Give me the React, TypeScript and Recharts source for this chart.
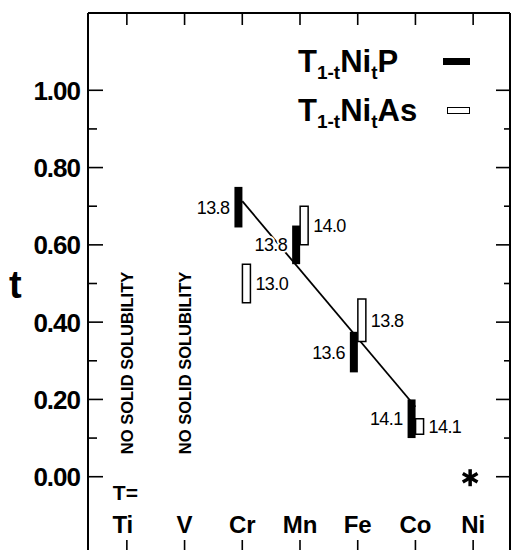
import { ComposedChart, Bar, Line, Scatter, XAxis, YAxis, LabelList, Legend } from 'recharts'

// transition metals T in T(1-t)Ni(t)P / T(1-t)Ni(t)As
const elements = ['Ti', 'V', 'Cr', 'Mn', 'Fe', 'Co', 'Ni']
const phosphideRange = [null, null, [0.645, 0.75], [0.55, 0.65], [0.27, 0.375], [0.1, 0.2], null]
const phosphideLabel = [null, null, '13.8', '13.8', '13.6', '14.1', null]
const arsenideRange = [null, null, [0.45, 0.55], [0.6, 0.7], [0.35, 0.46], [0.11, 0.15], null]
const arsenideLabel = [null, null, '13.0', '14.0', '13.8', '14.1', null]
const trendLine = [null, null, 0.713, null, null, 0.181, null]
const pureNi = [null, null, null, null, null, null, 0]
const noSolubility = ['Ti', 'V']
const yTicks = [0, 0.1, 0.2, 0.3, 0.4, 0.5, 0.6, 0.7, 0.8, 0.9, 1.0]
const seriesNames = ['P', 'As']

const chartData = elements.map((name, i) => ({
  name,
  p: phosphideRange[i],
  pLabel: phosphideLabel[i],
  as: arsenideRange[i],
  asLabel: arsenideLabel[i],
  fit: trendLine[i],
  ni: pureNi[i],
}))

const FONT = '"Liberation Sans", Arial, sans-serif'
const INK = '#000'

const LeftTick = ({ x, y, payload }: any) => {
  const major = Math.round(payload.value * 10) % 2 === 0
  return (
    <g>
      <line x1={x} x2={x + (major ? 15 : 9)} y1={y} y2={y} stroke={INK} strokeWidth={1.6} />
      {major && (
        <text x={x - 8} y={y} dy="0.36em" textAnchor="end" fontFamily={FONT} fontWeight="bold" fontSize={26} letterSpacing={-1} fill={INK}>
          {payload.value.toFixed(2)}
        </text>
      )}
    </g>
  )
}

const RightTick = ({ x, y, payload }: any) => {
  const major = Math.round(payload.value * 10) % 2 === 0
  return <line x1={x} x2={x - (major ? 14 : 6)} y1={y} y2={y} stroke={INK} strokeWidth={1.6} />
}

const TopTick = ({ x, y }: any) => (
  <line x1={x} x2={x} y1={y} y2={y + 12} stroke={INK} strokeWidth={1.6} />
)

const BottomTick = ({ x, y, payload }: any) => (
  <g>
    <line x1={x} x2={x} y1={y} y2={y - 14} stroke={INK} strokeWidth={1.6} />
    <text x={payload.value === elements[0] ? x - 4 : x} y={y - 21} textAnchor="middle" fontFamily={FONT} fontWeight="bold" fontSize={24} fill={INK}>
      {payload.value}
    </text>
    {payload.value === elements[0] && (
      <text x={x - 14} y={y - 54} fontFamily={FONT} fontWeight="bold" fontSize={21} fill={INK}>
        T=
      </text>
    )}
    {noSolubility.includes(payload.value) && (
      <text
        transform={`translate(${x}, ${y - 191}) rotate(-90)`}
        dy="0.36em"
        textAnchor="middle"
        fontFamily={FONT}
        fontWeight="bold"
        fontSize={16.5}
        fill={INK}
      >
        NO SOLID SOLUBILITY
      </text>
    )}
  </g>
)

const barLabel = (side: 'left' | 'right') => (props: any) => {
  const { x, y, width, height, value } = props
  if (value == null) return null
  const tx = side === 'left' ? x - 5 : x + width + 5
  return (
    <text
      x={tx}
      y={y + height / 2}
      dy="0.36em"
      textAnchor={side === 'left' ? 'end' : 'start'}
      fontFamily={FONT}
      fontSize={18}
      letterSpacing={-0.6}
      fill={INK}
      stroke="#fff"
      strokeWidth={4}
      paintOrder="stroke"
    >
      {value}
    </text>
  )
}

const Asterisk = (props: any) => {
  const { cx, cy } = props
  if (cx == null || cy == null || Number.isNaN(cy)) return null
  const r = 8.5
  const arms = [90, 30, 150].map((deg) => {
    const a = (deg * Math.PI) / 180
    return (
      <line key={deg} x1={cx - 3 - r * Math.cos(a)} y1={cy + 1 - r * Math.sin(a)} x2={cx - 3 + r * Math.cos(a)} y2={cy + 1 + r * Math.sin(a)} stroke={INK} strokeWidth={3.5} />
    )
  })
  return <g>{arms}</g>
}

const LegendContent = () => (
  <div style={{ fontFamily: FONT, fontWeight: 'bold', color: INK, width: 172 }}>
    {seriesNames.map((anion, i) => (
      <div key={anion} style={{ display: 'flex', justifyContent: 'space-between', alignItems: 'center', height: 49, fontSize: 31, lineHeight: '30px' }}>
        <span>
          T<span style={{ fontSize: 19, verticalAlign: -7, lineHeight: 0 }}>1-t</span>Ni
          <span style={{ fontSize: 19, verticalAlign: -7, lineHeight: 0 }}>t</span>
          {anion}
        </span>
        <span
          style={{
            display: 'inline-block',
            width: i === 0 ? 27 : 23,
            height: 7,
            background: i === 0 ? INK : '#fff',
            border: i === 0 ? 'none' : `1.5px solid ${INK}`,
            boxSizing: 'border-box',
          }}
        />
      </div>
    ))}
  </div>
)

export default function App() {
  return (
    <div style={{ position: 'absolute', left: 0, top: 0, width: 511, height: 550, overflow: 'hidden', background: '#fff' }}>
      <ComposedChart width={511} height={560} data={chartData} margin={{ top: 0, right: 0, bottom: 0, left: 0 }} barGap={0} barSize={8}>
        <XAxis dataKey="name" xAxisId="top" orientation="top" height={13} padding={{ left: 10, right: 8 }} tickSize={0} tickMargin={0} tickLine={false} tick={<TopTick />} axisLine={{ stroke: INK, strokeWidth: 2 }} interval={0} />
        <XAxis dataKey="name" height={6} padding={{ left: 10, right: 8 }} tickSize={0} tickMargin={0} tickLine={false} tick={<BottomTick />} axisLine={{ stroke: INK, strokeWidth: 2 }} interval={0} />
        <YAxis width={88} domain={[-0.2, 1.2]} ticks={yTicks} type="number" tickSize={0} tickMargin={0} tickLine={false} tick={<LeftTick />} axisLine={{ stroke: INK, strokeWidth: 2 }} interval={0} allowDataOverflow />
        <YAxis yAxisId="r" orientation="right" width={1} domain={[-0.2, 1.2]} ticks={yTicks} type="number" tickSize={0} tickMargin={0} tickLine={false} tick={<RightTick />} axisLine={{ stroke: INK, strokeWidth: 2 }} interval={0} allowDataOverflow />
        <Legend verticalAlign="middle" align="center" content={<LegendContent />} wrapperStyle={{ top: 37, left: 298, width: 172 }} />
        <Line dataKey="fit" type="linear" stroke={INK} strokeWidth={1.8} dot={false} connectNulls isAnimationActive={false} legendType="none" zIndex={250} />
        <Bar dataKey="p" name={seriesNames[0]} fill={INK} isAnimationActive={false}>
          <LabelList dataKey="pLabel" content={barLabel('left')} />
        </Bar>
        <Bar dataKey="as" name={seriesNames[1]} fill="#fff" stroke={INK} strokeWidth={1.5} isAnimationActive={false}>
          <LabelList dataKey="asLabel" content={barLabel('right')} />
        </Bar>
        <Scatter dataKey="ni" shape={<Asterisk />} isAnimationActive={false} legendType="none" />
      </ComposedChart>
      <div style={{ position: 'absolute', left: 9, top: 266, fontFamily: FONT, fontWeight: 'bold', fontSize: 38, lineHeight: '38px', color: INK }}>t</div>
    </div>
  )
}
